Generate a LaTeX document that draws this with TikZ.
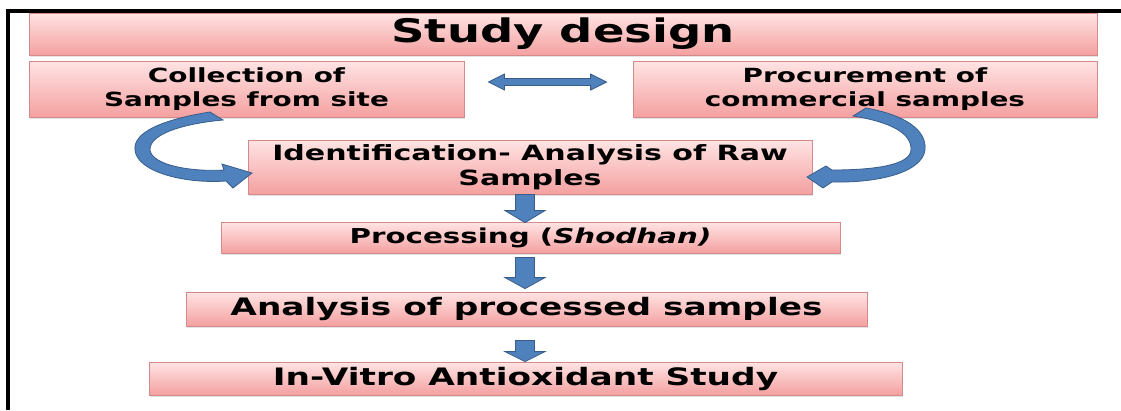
\documentclass[tikz,border=0pt]{standalone}
\usepackage{fontspec}
\newfontfamily\wfont[FakeStretch=1.43]{DejaVu Sans}
\usetikzlibrary{shadows,calc}
\definecolor{boxtop}{RGB}{255,228,228}
\definecolor{boxbot}{RGB}{244,160,160}
\definecolor{boxline}{RGB}{212,138,138}
\definecolor{arrfill}{RGB}{79,129,189}
\definecolor{arrline}{RGB}{56,93,138}
\begin{document}
\begin{tikzpicture}[x=1pt,y=-1pt,
  box/.style={draw=boxline, line width=0.8pt, top color=boxtop, bottom color=boxbot,
    inner sep=0pt, align=center, text=black,
    drop shadow={opacity=0.22, shadow xshift=1pt, shadow yshift=-1.5pt}},
  blockarrow/.style={fill=arrfill, draw=arrline, line width=0.8pt, line join=miter}]
\useasboundingbox (0,0) rectangle (1121,410);
\fill[white] (0,0) rectangle (1121,410);
% frame
\draw[line width=4pt, line join=miter] (8,410) -- (8,11) -- (1121,11);
% boxes
\node[box, minimum width=1068pt, minimum height=42pt,
  font=\wfont\bfseries\fontsize{32.5}{38}\selectfont] (title) at (563,34) {Study design};
\node[box, minimum width=435pt, minimum height=56pt,
  font=\wfont\bfseries\fontsize{19.5}{24}\selectfont] (coll) at (246.5,89) {Collection of\\Samples from site};
\node[box, minimum width=464pt, minimum height=56pt,
  font=\wfont\bfseries\fontsize{19.5}{24}\selectfont] (procure) at (865,89) {Procurement of\\commercial samples};
\node[box, minimum width=564pt, minimum height=54pt,
  font=\wfont\bfseries\fontsize{21}{24.5}\selectfont] (ident) at (530,167) {Identification- Analysis of Raw\\Samples};
\node[box, minimum width=619pt, minimum height=31pt,
  font=\wfont\bfseries\fontsize{20.5}{24}\selectfont] (proc) at (530.5,237.5) {Processing (\textit{Shodhan)}};
\node[box, minimum width=681pt, minimum height=34pt,
  font=\wfont\bfseries\fontsize{24}{28}\selectfont] (anal) at (526.5,309) {Analysis of processed samples};
\node[box, minimum width=753pt, minimum height=33pt,
  font=\wfont\bfseries\fontsize{24}{28}\selectfont] (vitro) at (525.5,378.5) {In-Vitro Antioxidant Study};
% double arrow
\coordinate (dl) at ($(coll.east)+(24,-7)$);
\coordinate (dr) at ($(procure.west)+(-26,-7)$);
\draw[blockarrow] (dl) -- ($(dl)+(16,-8)$) -- ($(dl)+(16,-3.5)$) -- ($(dr)+(-16,-3.5)$)
  -- ($(dr)+(-16,-8)$) -- (dr) -- ($(dr)+(-16,8)$) -- ($(dr)+(-16,3.5)$)
  -- ($(dl)+(16,3.5)$) -- ($(dl)+(16,8)$) -- cycle;
% down arrows
\draw[blockarrow] ($(ident.south)+(-14.5,0)$) -- ($(ident.south)+(4.5,0)$)
  -- ($(proc.north)+(4,-11)$) -- ($(proc.north)+(14.5,-11)$) -- ($(proc.north)+(-5.5,1)$)
  -- ($(proc.north)+(-25.5,-11)$) -- ($(proc.north)+(-15,-11)$) -- cycle;
\draw[blockarrow] ($(proc.south)+(-15,4)$) -- ($(proc.south)+(4,4)$)
  -- ($(anal.north)+(8,-14)$) -- ($(anal.north)+(18.5,-14)$) -- ($(anal.north)+(-1.5,-3)$)
  -- ($(anal.north)+(-21.5,-14)$) -- ($(anal.north)+(-11,-14)$) -- cycle;
\draw[blockarrow] ($(anal.south)+(-11,14)$) -- ($(anal.south)+(8,14)$)
  -- ($(vitro.north)+(9,-10)$) -- ($(vitro.north)+(19.5,-10)$) -- ($(vitro.north)+(-0.5,0)$)
  -- ($(vitro.north)+(-20.5,-10)$) -- ($(vitro.north)+(-10,-10)$) -- cycle;
% curved arrows
\draw[blockarrow] (210,112) .. controls (160,120) and (133,133) .. (135,150)
  .. controls (137,172) and (185,184) .. (226,181) -- (233,188) -- (252,173) -- (222,164)
  -- (224,170) .. controls (190,172) and (152,165) .. (150,150)
  .. controls (149,135) and (180,124) .. (223,120) -- cycle;
\draw[blockarrow] (866,108) .. controls (905,115) and (927,130) .. (925,150)
  .. controls (922,172) and (880,183) .. (832,182) -- (823,188) -- (807,177) -- (826,166)
  -- (832,170) .. controls (875,170) and (910,165) .. (911,150)
  .. controls (912,133) and (890,122) .. (853,116) -- cycle;
\end{tikzpicture}
\end{document}
